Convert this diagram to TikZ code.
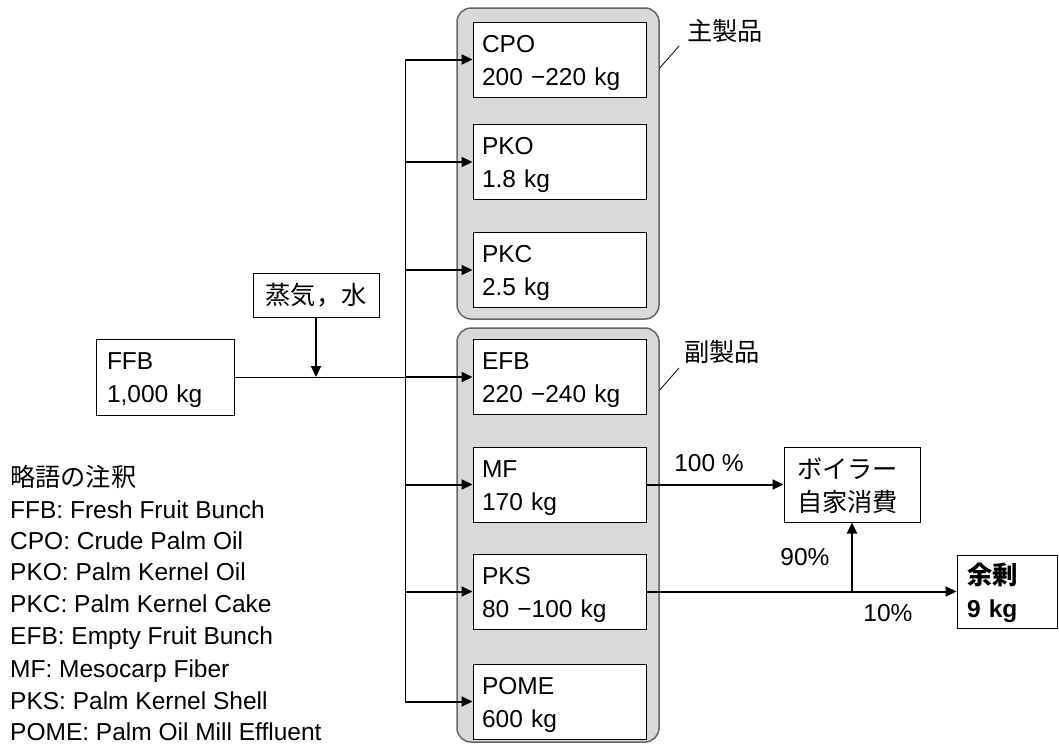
\documentclass[tikz,border=0pt]{standalone}
\usepackage{fontspec}
\setmainfont{Liberation Sans}
\newfontfamily\jp[Scale=1.03]{Noto Sans CJK JP}
\usetikzlibrary{arrows.meta}
\definecolor{fillG}{rgb}{0.85,0.85,0.85}
\definecolor{lineG}{rgb}{0.40,0.40,0.40}

\begin{document}
\begin{tikzpicture}[x=1pt, y=-1pt, >={Triangle[length=11pt,width=10pt]},
  every node/.style={font=\fontsize{24.5}{33}\selectfont},
  box/.style={draw, fill=white, line width=1pt, minimum width=173pt, minimum height=75pt,
    text width=155pt, inner xsep=9pt, align=left,
    execute at begin node={\rule{0pt}{24pt}}},
  grp/.style={draw=lineG, fill=fillG, line width=1.5pt, rounded corners=14pt, inner sep=0pt},
  flow/.style={->, line width=2pt},
  wire/.style={line width=1pt},
  callout/.style={line width=0.8pt}]
\useasboundingbox (0,0) rectangle (1059,744);
% ---------- 製品グループ ----------
\node[grp, minimum width=202pt, minimum height=311pt] (mainGrp) at (558,163.5) {};
\node[grp, minimum width=202pt, minimum height=414pt] (byGrp) at (558,535) {};
\node[inner sep=0pt] (mainLbl) at (725,31) {\jp 主製品};
\node[inner sep=0pt] (byLbl) at (722,352) {\jp 副製品};
\coordinate (mainTip) at (679,46);
\coordinate (byTip) at (679,368);
\draw[callout] (mainTip) -- (mainGrp.east |- 0,68);
\draw[callout] (byTip) -- (byGrp.east |- 0,390);
% 主製品
\node[box] (cpo) at (559.5,59.5) {CPO\\200 −220 kg};
\node[box] (pko) at (559.5,162) {PKO\\1.8 kg};
\node[box] (pkc) at (559.5,270) {PKC\\2.5 kg};
% 副製品
\node[box] (efb) at (559.5,377) {EFB\\220 −240 kg};
\node[box] (mf) at (559.5,484.5) {MF\\170 kg};
\node[box] (pks) at (559.5,591.5) {PKS\\80 −100 kg};
\node[box] (pome) at (559.5,701.5) {POME\\600 kg};
% ---------- 入力 ----------
\node[box, minimum width=138pt, minimum height=76pt, text width=116pt, inner xsep=11pt] (ffb) at (165,377) {FFB\\1,000 kg};
\node[draw, fill=white, line width=1pt, minimum width=126pt, minimum height=44pt] (steam) at (316,295) {\jp 蒸気，水};
\coordinate (bus) at (405,0);
\draw[wire] (ffb.east) -- (bus |- ffb.east);
\draw[flow] (steam.south) -- (steam.south |- ffb.east);
\draw[wire] (bus |- cpo.west) -- (bus |- pome.west);
\draw[flow] (bus |- cpo.west) -- (cpo.west);
\draw[flow] (bus |- pko.west) -- (pko.west);
\draw[flow] (bus |- pkc.west) -- (pkc.west);
\draw[flow] (bus |- efb.west) -- (efb.west);
\draw[flow] (bus |- mf.west) -- (mf.west);
\draw[flow] (bus |- pks.west) -- (pks.west);
\draw[flow] (bus |- pome.west) -- (pome.west);
% ---------- ボイラーと余剰 ----------
\node[box, minimum width=136pt, text width=110pt, inner xsep=13pt, font=\fontsize{24.5}{33}\selectfont\jp] (boiler) at (852,484.5) {ボイラー\\自家消費};
\node[box, minimum width=100pt, minimum height=73pt, text width=80pt, inner xsep=10pt] (surplus) at (1007,591.5) {{\jp\bfseries 余剰}\\{\bfseries 9 kg}};
\draw[flow] (mf.east) -- (boiler.west);
\node (pctMF) at (709,463) {100 \%};
\coordinate (split) at (boiler.south |- pks.east);
\draw[flow] (pks.east) -- (surplus.west);
\draw[flow] (split) -- (boiler.south);
\node (pctUp) at (805,557) {90\%};
\node (pctOut) at (888,613) {10\%};
% ---------- 略語の注釈 ----------
\node[anchor=base west, inner sep=0pt] (legHead) at (10,486) {\jp 略語の注釈};
\node[anchor=base west, inner sep=0pt] (legFFB) at (10,518.4) {FFB: Fresh Fruit Bunch};
\node[anchor=base west, inner sep=0pt] (legCPO) at (10,549.4) {CPO: Crude Palm Oil};
\node[anchor=base west, inner sep=0pt] (legPKO) at (10,580.4) {PKO: Palm Kernel Oil};
\node[anchor=base west, inner sep=0pt] (legPKC) at (10,612.4) {PKC: Palm Kernel Cake};
\node[anchor=base west, inner sep=0pt] (legEFB) at (10,644.4) {EFB: Empty Fruit Bunch};
\node[anchor=base west, inner sep=0pt] (legMF) at (10,677.4) {MF: Mesocarp Fiber};
\node[anchor=base west, inner sep=0pt] (legPKS) at (10,709.4) {PKS: Palm Kernel Shell};
\node[anchor=base west, inner sep=0pt] (legPOME) at (10,740.4) {POME: Palm Oil Mill Effluent};
\end{tikzpicture}
\end{document}
